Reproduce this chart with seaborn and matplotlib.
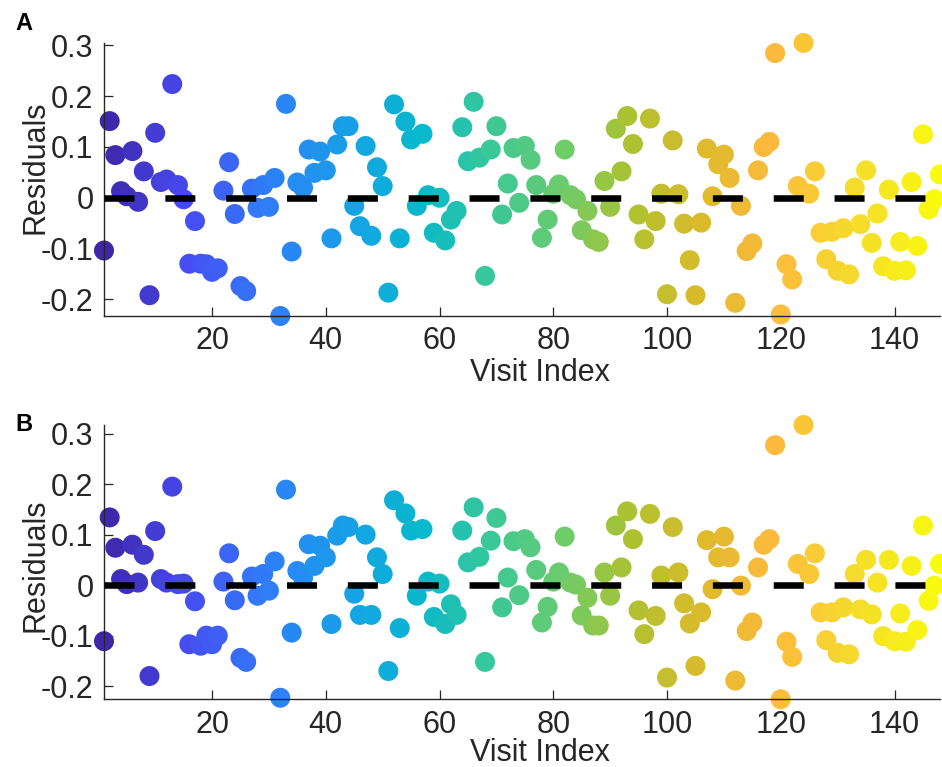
import pandas as pd
import matplotlib
matplotlib.use("Agg")
import matplotlib.pyplot as plt
import seaborn as sns
from matplotlib.colors import LinearSegmentedColormap

# residuals per visit
resid_a = [
    -0.104, 0.151, 0.084, 0.013, 0.003, 0.092, -0.008, 0.052, -0.192, 0.128,
    0.031, 0.036, 0.224, 0.025, -0.003, -0.130, -0.046, -0.130, -0.131, -0.146,
    -0.139, 0.014, 0.070, -0.032, -0.174, -0.184, 0.018, -0.020, 0.025, -0.018,
    0.039, -0.233, 0.185, -0.106, 0.030, 0.020, 0.095, 0.049, 0.091, 0.054,
    -0.080, 0.105, 0.141, 0.141, -0.016, -0.056, 0.102, -0.075, 0.060, 0.023,
    -0.187, 0.184, -0.080, 0.150, 0.115, -0.016, 0.126, 0.005, -0.069, 0.000,
    -0.084, -0.043, -0.026, 0.139, 0.072, 0.189, 0.079, -0.154, 0.095, 0.141,
    -0.033, 0.028, 0.098, -0.010, 0.102, 0.075, 0.025, -0.079, -0.043, 0.008,
    0.026, 0.095, 0.005, -0.003, -0.064, -0.026, -0.082, -0.087, 0.033, -0.018,
    0.136, 0.052, 0.161, 0.106, -0.033, -0.082, 0.156, -0.046, 0.008, -0.190,
    0.113, 0.007, -0.051, -0.123, -0.192, -0.049, 0.097, 0.003, 0.066, 0.085,
    0.039, -0.207, -0.016, -0.105, -0.090, 0.054, 0.100, 0.110, 0.285, -0.230,
    -0.131, -0.161, 0.023, 0.305, 0.008, 0.052, -0.069, -0.121, -0.067, -0.144,
    -0.060, -0.151, 0.020, -0.052, 0.054, -0.089, -0.031, -0.135, 0.016, -0.144,
    -0.087, -0.143, 0.031, -0.095, 0.125, -0.023, -0.003, 0.046,
]
resid_b = [
    -0.111, 0.134, 0.074, 0.012, 0.002, 0.080, 0.005, 0.060, -0.180, 0.107,
    0.012, 0.005, 0.195, 0.002, 0.003, -0.117, -0.032, -0.120, -0.100, -0.117,
    -0.100, 0.007, 0.063, -0.030, -0.144, -0.152, 0.017, -0.021, 0.022, -0.011,
    0.047, -0.223, 0.189, -0.094, 0.028, 0.015, 0.081, 0.038, 0.078, 0.055,
    -0.077, 0.098, 0.118, 0.115, -0.017, -0.059, 0.100, -0.059, 0.055, 0.022,
    -0.170, 0.168, -0.085, 0.142, 0.108, -0.021, 0.111, 0.007, -0.063, 0.003,
    -0.077, -0.038, -0.059, 0.108, 0.045, 0.154, 0.056, -0.152, 0.088, 0.133,
    -0.044, 0.015, 0.087, -0.020, 0.091, 0.075, 0.030, -0.074, -0.043, 0.007,
    0.025, 0.096, 0.005, 0.001, -0.060, -0.025, -0.080, -0.080, 0.025, -0.021,
    0.118, 0.035, 0.146, 0.091, -0.050, -0.097, 0.141, -0.061, 0.019, -0.183,
    0.115, 0.025, -0.036, -0.076, -0.160, -0.054, 0.089, -0.008, 0.055, 0.096,
    0.055, -0.189, -0.001, -0.091, -0.074, 0.035, 0.080, 0.091, 0.277, -0.226,
    -0.112, -0.142, 0.042, 0.317, 0.022, 0.063, -0.054, -0.109, -0.054, -0.134,
    -0.044, -0.137, 0.022, -0.048, 0.050, -0.058, 0.005, -0.101, 0.050, -0.111,
    -0.056, -0.112, 0.038, -0.089, 0.118, -0.031, -0.001, 0.042,
]
visit_index = list(range(1, len(resid_a) + 1))

x_ticks = [20, 40, 60, 80, 100, 120, 140]
y_ticks = [-0.2, -0.1, 0, 0.1, 0.2, 0.3]
y_tick_labels = ["-0.2", "-0.1", "0", "0.1", "0.2", "0.3"]

# rough parula
parula_stops = [
    (0.00, (0.242, 0.150, 0.660)),
    (0.10, (0.278, 0.300, 0.950)),
    (0.20, (0.180, 0.500, 0.970)),
    (0.30, (0.080, 0.640, 0.900)),
    (0.38, (0.030, 0.720, 0.800)),
    (0.45, (0.200, 0.780, 0.620)),
    (0.55, (0.420, 0.800, 0.420)),
    (0.63, (0.680, 0.760, 0.190)),
    (0.72, (0.870, 0.730, 0.170)),
    (0.80, (0.990, 0.730, 0.240)),
    (0.90, (0.960, 0.860, 0.170)),
    (1.00, (0.976, 0.984, 0.054)),
]
parula = LinearSegmentedColormap.from_list("parula", parula_stops)

sns.set_style("ticks")
plt.rcParams["font.family"] = ["Liberation Sans", "DejaVu Sans"]
plt.rcParams["axes.unicode_minus"] = False

INK = "#262626"

fig = plt.figure(figsize=(9.42, 7.67), dpi=100)

# tag, data, axes rect, ylabel y, xlabel y, tag y (px)
panels = [
    ("A", resid_a, [0.1104, 0.588, 0.8875, 0.356], 0.546, -0.152, 24),
    ("B", resid_b, [0.1104, 0.0883, 0.8875, 0.3576], 0.49, -0.143, 425),
]

for tag, resid, rect, ylab_y, xlab_y, tag_y in panels:
    ax = fig.add_axes(rect)
    df = pd.DataFrame({"visit": visit_index, "resid": resid})
    sns.scatterplot(data=df, x="visit", y="resid", hue="visit", palette=parula,
                    hue_norm=(1, len(visit_index)), s=207, linewidth=0,
                    legend=False, ax=ax, clip_on=False, zorder=2)
    ax.plot([visit_index[0], visit_index[-1]], [0, 0], color="black", lw=4.7,
            linestyle=(0, (4.6, 4.72)), zorder=3, clip_on=False)

    ax.set_xlim(visit_index[0], visit_index[-1])
    ax.set_ylim(min(resid), max(resid))
    ax.set_xticks(x_ticks)
    ax.set_yticks(y_ticks)
    ax.set_yticklabels(y_tick_labels)
    sns.despine(ax=ax)
    for side in ["left", "bottom"]:
        ax.spines[side].set_color(INK)
        ax.spines[side].set_linewidth(1.0)
    ax.tick_params(direction="in", length=6.5, width=0.9, color=INK,
                   labelsize=22, labelcolor=INK, pad=7.5)

    ax.set_xlabel("Visit Index", fontsize=22, color=INK)
    ax.set_ylabel("Residuals", fontsize=22, color=INK)
    ax.xaxis.set_label_coords(0.5215, xlab_y)
    ax.yaxis.set_label_coords(-0.064, ylab_y)

    fig.text(24 / 942, 1 - tag_y / 767, tag, fontsize=17, fontweight="bold",
             ha="center", va="center", color="black")

fig.savefig("out.png", dpi=100)
